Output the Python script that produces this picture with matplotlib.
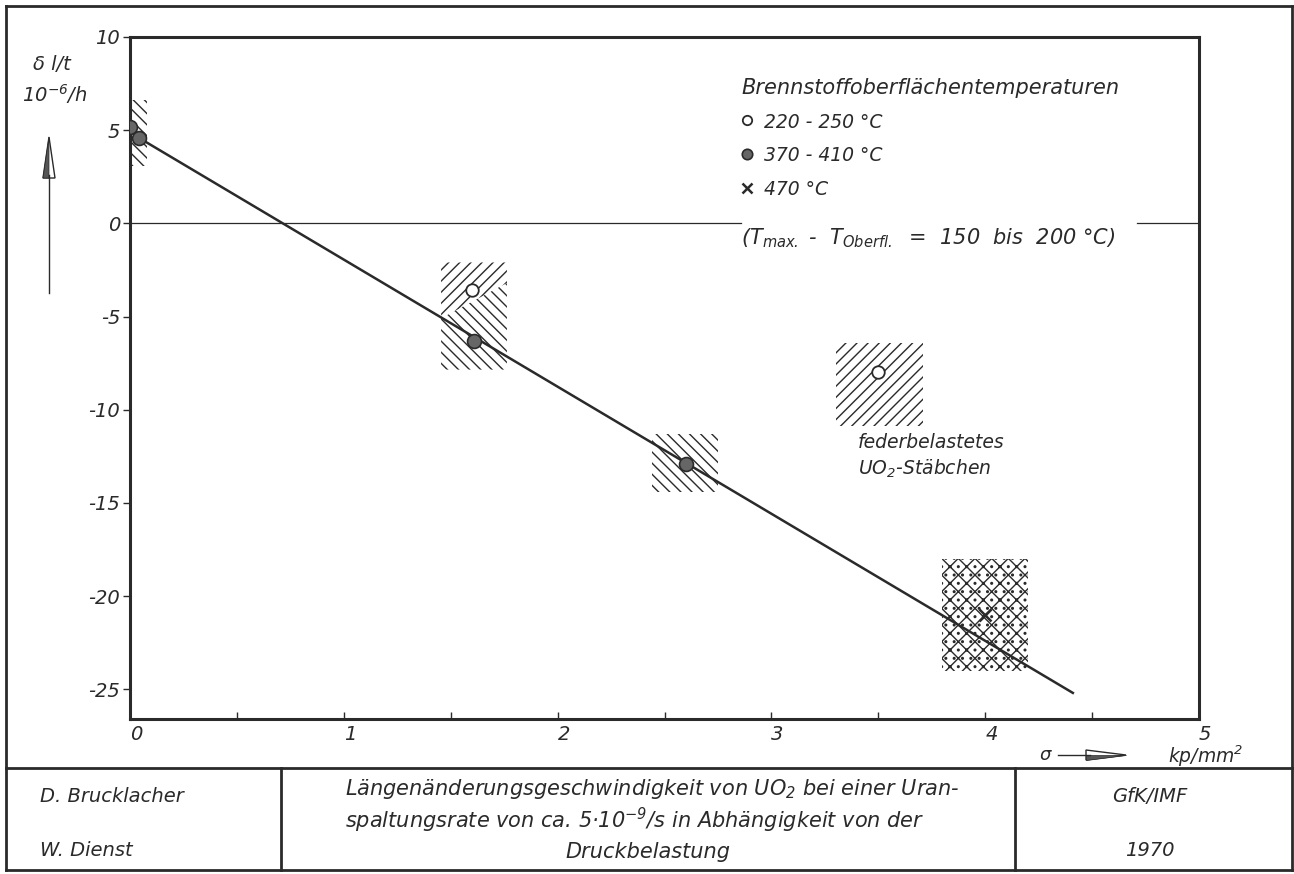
import matplotlib
matplotlib.use("Agg")
import matplotlib.pyplot as plt
from matplotlib.lines import Line2D
from matplotlib.patches import Polygon, Rectangle

plt.rcParams['font.family'] = ['DejaVu Sans']
plt.rcParams['font.style'] = 'italic'
plt.rcParams['axes.unicode_minus'] = False
plt.rcParams['mathtext.fontset'] = 'custom'
plt.rcParams['mathtext.it'] = 'DejaVu Sans:italic'
plt.rcParams['mathtext.rm'] = 'DejaVu Sans:italic'
plt.rcParams['mathtext.default'] = 'it'
plt.rcParams['hatch.linewidth'] = 1.0

INK = '#2a2a2a'
W, H = 1294, 874

# data
open_x = [1.6, 3.5]
open_y = [-3.6, -8.0]
filled_x = [0.0, 0.04, 1.61, 2.6]
filled_y = [5.15, 4.6, -6.3, -12.9]
cross_x = [4.0]
cross_y = [-21.0]
fit_x = [0.04, 4.41]
fit_y = [4.6, -25.2]

# scatter ranges (x0, x1, y0, y1, hatch)
boxes = [
    (0.0, 0.08, 3.1, 6.6, '\\\\\\'),
    (2.44, 2.75, -14.4, -11.3, '\\\\\\'),
    (3.30, 3.71, -10.9, -6.4, '///'),
    (3.80, 4.20, -24.0, -18.0, 'xx..'),
]
# herringbone box at sigma = 1.6
herr_x = [1.455, 1.763]
herr_y = [-7.85, -2.1]
herr_split = [-5.1, -3.2]

y_ticks = [10, 5, 0, -5, -10, -15, -20, -25]
x_ticks = [0, 1, 2, 3, 4, 5]


def fx(px):
    return px / W


def fy(py):
    return 1 - py / H


fig = plt.figure(figsize=(12.94, 8.74), dpi=100)
ax = fig.add_axes([fx(130), fy(719), (1199 - 130) / W, (719 - 37) / H])
ax.set_xlim(0, 5)
ax.set_ylim(-26.6, 10)

for x0, x1, y0, y1, h in boxes:
    ax.add_patch(Rectangle((x0, y0), x1 - x0, y1 - y0, hatch=h,
                           facecolor='none', edgecolor=INK, linewidth=0))
ax.fill([herr_x[0], herr_x[1], herr_x[1], herr_x[0]],
        [herr_y[1], herr_y[1], herr_split[1], herr_split[0]],
        hatch='///', facecolor='none', edgecolor=INK, linewidth=0)
ax.fill([herr_x[0], herr_x[1], herr_x[1], herr_x[0]],
        [herr_split[0], herr_split[1], herr_y[0], herr_y[0]],
        hatch='\\\\\\', facecolor='none', edgecolor=INK, linewidth=0)

ax.plot([0, 2.86], [0, 0], color=INK, lw=0.9)
ax.plot([4.71, 5], [0, 0], color=INK, lw=0.9)
ax.plot(fit_x, fit_y, color=INK, lw=1.8, zorder=3)

ax.plot(open_x, open_y, 'o', ms=9, mfc='white', mec=INK, mew=1.3,
        ls='none', zorder=4, label='220 - 250 °C')
ax.plot(filled_x, filled_y, 'o', ms=10, mfc='#666666', mec=INK, mew=1.2,
        ls='none', zorder=4, label='370 - 410 °C')
ax.plot(cross_x, cross_y, 'x', ms=9, mec=INK, mew=1.8,
        ls='none', zorder=4, label='470 °C')

leg = ax.legend(title='Brennstoffoberflächentemperaturen', loc='upper left',
                bbox_to_anchor=(0.572, 0.94), frameon=False, fontsize=13.5,
                title_fontsize=15, alignment='left', handlelength=0.6,
                handletextpad=0.6, labelspacing=0.78, markerscale=0.75,
                borderpad=0, borderaxespad=0, handleheight=0.9,
                labelcolor=INK)
leg.get_title().set_style('italic')
leg.get_title().set_color(INK)
ax.text(0.572, 0.705, '(T$_{max.}$ -  T$_{Oberfl.}$  =  150  bis  200 °C)',
        transform=ax.transAxes, fontsize=15, color=INK, va='center')
ax.text(3.405, -11.25, 'federbelastetes\nUO$_2$-Stäbchen', fontsize=13.5,
        color=INK, va='top', ha='left', linespacing=1.35)

ax.set_yticks(y_ticks)
ax.set_yticklabels([str(v) for v in y_ticks])
ax.set_xticks(x_ticks)
ax.set_xticklabels([str(v) for v in x_ticks])
ax.set_xticks([0.5, 1.5, 2.5, 3.5, 4.5], minor=True)
ax.tick_params(axis='y', direction='out', length=5, width=1, labelsize=14,
               pad=2, colors=INK)
ax.tick_params(axis='x', which='both', direction='in', length=5, width=1,
               labelsize=14, pad=4, colors=INK)
for lab in ax.get_xticklabels():
    lab.set_horizontalalignment('left')
for s in ax.spines.values():
    s.set_linewidth(2.2)
    s.set_color(INK)

# axis labels and arrows
fig.text(fx(52), fy(64), 'δ l/t', fontsize=14, ha='center', va='center', color=INK)
fig.text(fx(55), fy(94), '10$^{-6}$/h', fontsize=14, ha='center', va='center', color=INK)
fig.add_artist(Line2D([fx(49), fx(49)], [fy(293), fy(175)], color=INK, lw=1.0))
fig.add_artist(Polygon([(fx(49), fy(137)), (fx(43), fy(178)), (fx(55), fy(178))],
                       closed=True, facecolor='white', edgecolor=INK, lw=1.0,
                       transform=fig.transFigure))
fig.add_artist(Polygon([(fx(49), fy(137)), (fx(43), fy(178)), (fx(49), fy(178))],
                       closed=True, facecolor='#555555', edgecolor=INK, lw=0.5,
                       transform=fig.transFigure))

AY = 755
fig.text(fx(1045), fy(AY), 'σ', fontsize=13, ha='center', va='center', color=INK)
fig.add_artist(Line2D([fx(1058), fx(1090)], [fy(AY), fy(AY)], color=INK, lw=1.0))
fig.add_artist(Polygon([(fx(1126), fy(AY)), (fx(1086), fy(AY - 5)), (fx(1086), fy(AY + 5))],
                       closed=True, facecolor='white', edgecolor=INK, lw=1.0,
                       transform=fig.transFigure))
fig.add_artist(Polygon([(fx(1126), fy(AY)), (fx(1086), fy(AY)), (fx(1086), fy(AY + 5))],
                       closed=True, facecolor='#555555', edgecolor=INK, lw=0.5,
                       transform=fig.transFigure))
fig.text(fx(1168), fy(AY + 1), 'kp/mm$^2$', fontsize=13.5, ha='left', va='center', color=INK)

# outer frame and title block
frame = [((6, 6), (1292, 6)), ((1292, 6), (1292, 870)), ((1292, 870), (6, 870)),
         ((6, 870), (6, 6)), ((6, 768), (1292, 768)), ((281, 768), (281, 870)),
         ((1015, 768), (1015, 870))]
for (x0, y0), (x1, y1) in frame:
    fig.add_artist(Line2D([fx(x0), fx(x1)], [fy(y0), fy(y1)], color=INK, lw=2.0))

fig.text(fx(40), fy(797), 'D. Brucklacher', fontsize=14, va='center', color=INK)
fig.text(fx(40), fy(851), 'W. Dienst', fontsize=14, va='center', color=INK)
fig.text(fx(1150), fy(797), 'GfK/IMF', fontsize=14, ha='center', va='center', color=INK)
fig.text(fx(1150), fy(851), '1970', fontsize=14, ha='center', va='center', color=INK)
fig.text(fx(345), fy(789), 'Längenänderungsgeschwindigkeit von UO$_2$ bei einer Uran-',
         fontsize=15, va='center', color=INK)
fig.text(fx(345), fy(820), 'spaltungsrate von ca. 5·10$^{-9}$/s in Abhängigkeit von der',
         fontsize=15, va='center', color=INK)
fig.text(fx(648), fy(852), 'Druckbelastung', fontsize=15, ha='center', va='center', color=INK)

fig.savefig('out.png', dpi=100)
